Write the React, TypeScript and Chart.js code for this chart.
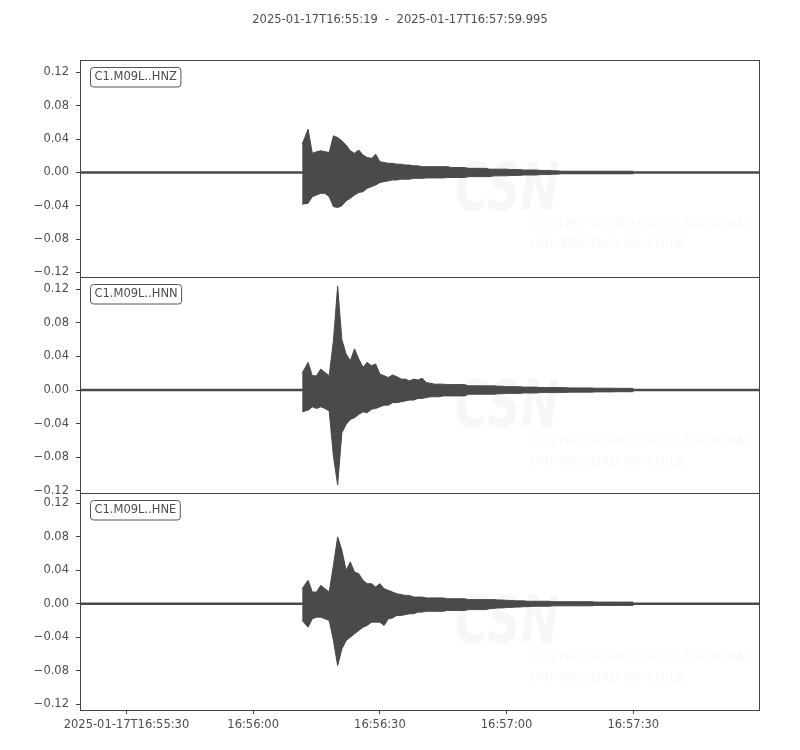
import { useEffect, useRef } from "react";
import { Chart, registerables } from "chart.js";

Chart.register(...registerables);

const title = "2025-01-17T16:55:19  -  2025-01-17T16:57:59.995";
const channels = ["C1.M09L..HNZ", "C1.M09L..HNN", "C1.M09L..HNE"];

// time in seconds relative to 16:56:00
const timeStart = -41;
const timeEnd = 119.995;
const xTicks = [-30, 0, 30, 60, 90];
const xTickLabels = ["2025-01-17T16:55:30", "16:56:00", "16:56:30", "16:57:00", "16:57:30"];
const yTicks = [-0.12, -0.08, -0.04, 0, 0.04, 0.08, 0.12];
const yMin = [-0.125, -0.123, -0.127];
const yMax = [0.135, 0.135, 0.132];

// onset, then 1 s steps; envelope (max / min) of each trace
const binSeconds = [
  11.6, 13, 14, 15, 16, 17, 18, 19, 20, 21,
  22, 23, 24, 25, 26, 27, 28, 29, 30, 31,
  32, 33, 34, 35, 36, 37, 38, 39, 40, 41,
  42, 43, 44, 45, 46, 47, 48, 49, 50, 51,
  52, 53, 54, 55, 56, 57, 58, 59, 60, 61,
  62, 63, 64, 65, 66, 67, 68, 69, 70, 71,
  72, 73, 74, 75, 76, 77, 78, 79, 80, 81,
  82, 83, 84, 85, 86, 87, 88, 89, 90,
];

const hnzMax = [
  0.034, 0.052, 0.023, 0.025, 0.026, 0.025, 0.024, 0.044, 0.042, 0.038,
  0.033, 0.026, 0.023, 0.027, 0.021, 0.018, 0.017, 0.022, 0.013, 0.012,
  0.011, 0.011, 0.01, 0.01, 0.009, 0.009, 0.008, 0.008, 0.007, 0.007,
  0.007, 0.007, 0.007, 0.007, 0.007, 0.006, 0.006, 0.006, 0.006, 0.005,
  0.005, 0.005, 0.005, 0.005, 0.004, 0.004, 0.004, 0.004, 0.004, 0.0035,
  0.0035, 0.0035, 0.003, 0.003, 0.003, 0.003, 0.0025, 0.0025, 0.0025, 0.002,
  0.002, 0.0015, 0.0015, 0.0015, 0.0015, 0.0015, 0.0015, 0.0015, 0.0015, 0.0015,
  0.0015, 0.0015, 0.0015, 0.0015, 0.0015, 0.0015, 0.0015, 0.0015, 0.0015,
];
const hnzMin = [
  -0.038, -0.037, -0.029, -0.027, -0.025, -0.025, -0.029, -0.041, -0.042, -0.04,
  -0.034, -0.031, -0.027, -0.024, -0.023, -0.019, -0.017, -0.015, -0.012, -0.011,
  -0.01, -0.009, -0.009, -0.008, -0.008, -0.008, -0.007, -0.007, -0.007, -0.0065,
  -0.0065, -0.0065, -0.0065, -0.0065, -0.006, -0.006, -0.006, -0.006, -0.006, -0.005,
  -0.005, -0.005, -0.005, -0.005, -0.005, -0.004, -0.004, -0.004, -0.004, -0.0035,
  -0.0035, -0.0035, -0.003, -0.003, -0.003, -0.003, -0.0025, -0.0025, -0.0025, -0.002,
  -0.002, -0.0015, -0.0015, -0.0015, -0.0015, -0.0015, -0.0015, -0.0015, -0.0015, -0.0015,
  -0.0015, -0.0015, -0.0015, -0.0015, -0.0015, -0.0015, -0.0015, -0.0015, -0.0015,
];

const hnnMax = [
  0.02, 0.033, 0.017, 0.017, 0.025, 0.021, 0.017, 0.059, 0.124, 0.06,
  0.043, 0.035, 0.049, 0.037, 0.027, 0.033, 0.029, 0.031, 0.019, 0.017,
  0.015, 0.018, 0.016, 0.013, 0.013, 0.011, 0.013, 0.012, 0.014, 0.009,
  0.008, 0.007, 0.007, 0.007, 0.0065, 0.0065, 0.0065, 0.0065, 0.0065, 0.005,
  0.005, 0.005, 0.005, 0.005, 0.005, 0.005, 0.0045, 0.0045, 0.004, 0.004,
  0.004, 0.004, 0.0035, 0.0035, 0.0035, 0.0035, 0.003, 0.003, 0.003, 0.003,
  0.003, 0.003, 0.0028, 0.0025, 0.0025, 0.0025, 0.0025, 0.0025, 0.0025, 0.0022,
  0.0022, 0.0022, 0.0022, 0.0022, 0.002, 0.002, 0.002, 0.002, 0.002,
];
const hnnMin = [
  -0.026, -0.024, -0.02, -0.022, -0.02, -0.022, -0.025, -0.079, -0.113, -0.051,
  -0.041, -0.035, -0.033, -0.029, -0.026, -0.027, -0.023, -0.022, -0.02, -0.018,
  -0.018, -0.015, -0.015, -0.014, -0.013, -0.012, -0.012, -0.01, -0.01, -0.009,
  -0.008, -0.008, -0.008, -0.007, -0.007, -0.007, -0.007, -0.007, -0.007, -0.005,
  -0.005, -0.005, -0.005, -0.005, -0.005, -0.005, -0.0045, -0.0045, -0.004, -0.004,
  -0.004, -0.004, -0.0035, -0.0035, -0.0035, -0.0035, -0.003, -0.003, -0.003, -0.003,
  -0.003, -0.003, -0.0028, -0.0025, -0.0025, -0.0025, -0.0025, -0.0025, -0.0025, -0.0022,
  -0.0022, -0.0022, -0.0022, -0.0022, -0.002, -0.002, -0.002, -0.002, -0.002,
];

const hneMax = [
  0.018, 0.028, 0.014, 0.014, 0.022, 0.018, 0.014, 0.046, 0.08, 0.064,
  0.04, 0.05, 0.038, 0.036, 0.028, 0.024, 0.024, 0.02, 0.024, 0.018,
  0.016, 0.014, 0.012, 0.011, 0.01, 0.01, 0.008, 0.008, 0.008, 0.007,
  0.007, 0.007, 0.007, 0.007, 0.006, 0.006, 0.006, 0.006, 0.006, 0.005,
  0.005, 0.005, 0.005, 0.005, 0.005, 0.005, 0.0045, 0.0045, 0.004, 0.004,
  0.0035, 0.0035, 0.0035, 0.003, 0.003, 0.003, 0.003, 0.003, 0.003, 0.0025,
  0.0025, 0.0025, 0.0025, 0.0025, 0.0025, 0.0025, 0.0025, 0.0025, 0.0025, 0.002,
  0.002, 0.002, 0.002, 0.002, 0.002, 0.002, 0.002, 0.002, 0.002,
];
const hneMin = [
  -0.02, -0.028, -0.018, -0.016, -0.016, -0.018, -0.02, -0.044, -0.074, -0.054,
  -0.044, -0.04, -0.036, -0.032, -0.028, -0.026, -0.022, -0.022, -0.022, -0.026,
  -0.018, -0.017, -0.014, -0.014, -0.013, -0.012, -0.012, -0.01, -0.01, -0.009,
  -0.009, -0.009, -0.009, -0.009, -0.008, -0.008, -0.008, -0.008, -0.008, -0.007,
  -0.007, -0.007, -0.007, -0.007, -0.006, -0.0055, -0.005, -0.005, -0.0045, -0.0045,
  -0.004, -0.004, -0.0035, -0.0035, -0.003, -0.003, -0.003, -0.003, -0.003, -0.0025,
  -0.0025, -0.0025, -0.0025, -0.0025, -0.0025, -0.0025, -0.0025, -0.0025, -0.0025, -0.002,
  -0.002, -0.002, -0.002, -0.002, -0.002, -0.002, -0.002, -0.002, -0.002,
];

const traceMax = [hnzMax, hnnMax, hneMax];
const traceMin = [hnzMin, hnnMin, hneMin];

const ink = "#4a4a4a";
const frame = "#444444";
const textColor = "#4d4d4d";
const fontFamily = "'DejaVu Sans', sans-serif";
const fontSize = 11.5;

function formatY(v: number) {
  if (Math.abs(v) < 1e-9) return "0.00";
  return v < 0 ? "\u2212" + Math.abs(v).toFixed(2) : v.toFixed(2);
}

// title, panel frames, station labels and the faint watermark
const decorations = {
  id: "seismoDecorations",
  beforeDatasetsDraw(chart: any) {
    const { ctx } = chart;
    ctx.save();
    ctx.fillStyle = "rgba(0,0,0,0.03)";
    channels.forEach((_, i) => {
      const s = chart.scales["y" + i];
      ctx.save();
      ctx.translate(455, s.top + 150);
      ctx.scale(0.7, 1);
      ctx.font = `italic bold 66px ${fontFamily}`;
      ctx.textBaseline = "alphabetic";
      ctx.fillText("CSN", 0, 0);
      ctx.restore();
      ctx.font = `13px ${fontFamily}`;
      ctx.fillText("CENTRO SISMOLOGICO NACIONAL", 530, s.top + 168);
      ctx.fillText("UNIVERSIDAD DE CHILE", 530, s.top + 188);
    });
    ctx.restore();
  },
  afterDatasetsDraw(chart: any) {
    const { ctx, chartArea } = chart;
    ctx.save();
    ctx.strokeStyle = frame;
    ctx.lineWidth = 1;
    channels.forEach((name, i) => {
      const s = chart.scales["y" + i];
      const top = Math.round(s.top) + 0.5;
      const bottom = Math.round(s.bottom) + 0.5;
      ctx.strokeStyle = frame;
      ctx.strokeRect(chartArea.left + 0.5, top, chartArea.right - chartArea.left - 1, bottom - top);

      ctx.font = `${fontSize}px ${fontFamily}`;
      const w = ctx.measureText(name).width + 8;
      const bx = chartArea.left + 10.5;
      const by = top + 7;
      ctx.beginPath();
      ctx.roundRect(bx, by, w, 19.5, 3);
      ctx.fillStyle = "#ffffff";
      ctx.fill();
      ctx.strokeStyle = "#555555";
      ctx.stroke();
      ctx.fillStyle = textColor;
      ctx.textBaseline = "middle";
      ctx.textAlign = "left";
      ctx.fillText(name, bx + 4, by + 10);
    });
    ctx.font = `${fontSize}px ${fontFamily}`;
    ctx.fillStyle = textColor;
    ctx.textAlign = "center";
    ctx.textBaseline = "middle";
    ctx.fillText(title, 400, 20);
    ctx.restore();
  },
};

export default function App() {
  const canvasRef = useRef<HTMLCanvasElement>(null);
  const chartRef = useRef<Chart | null>(null);

  useEffect(() => {
    if (!canvasRef.current) return;
    if (chartRef.current) chartRef.current.destroy();

    Chart.defaults.font.family = fontFamily;
    Chart.defaults.font.size = fontSize;
    Chart.defaults.color = textColor;

    const datasets: any[] = [];
    channels.forEach((name, i) => {
      // upper envelope, filled down to the lower envelope (next dataset)
      datasets.push({
        label: name + " max",
        yAxisID: "y" + i,
        data: binSeconds.map((t, k) => ({ x: t, y: traceMax[i][k] })),
        borderColor: ink,
        backgroundColor: ink,
        borderWidth: 1,
        pointRadius: 0,
        tension: 0,
        fill: "+1",
      });
      datasets.push({
        label: name + " min",
        yAxisID: "y" + i,
        data: binSeconds.map((t, k) => ({ x: t, y: traceMin[i][k] })),
        borderColor: ink,
        backgroundColor: ink,
        borderWidth: 1,
        pointRadius: 0,
        tension: 0,
        fill: false,
      });
      datasets.push({
        label: name + " noise",
        yAxisID: "y" + i,
        data: [
          { x: timeStart, y: 0 },
          { x: timeEnd, y: 0 },
        ],
        borderColor: ink,
        borderWidth: 2.5,
        pointRadius: 0,
        fill: false,
      });
    });

    const scales: any = {
      x: {
        type: "linear",
        position: "bottom",
        min: timeStart,
        max: timeEnd,
        offset: false,
        grid: { drawOnChartArea: false, offset: false, tickLength: 4, tickColor: frame },
        border: { display: false },
        ticks: {
          padding: 4,
          maxRotation: 0,
          autoSkip: false,
          color: textColor,
          callback: (_v: any, index: number) => xTickLabels[index],
        },
        afterBuildTicks: (s: any) => {
          s.ticks = xTicks.map((v) => ({ value: v }));
        },
        afterFit: (s: any) => {
          s.height = 40;
        },
      },
    };
    channels.forEach((_, i) => {
      scales["y" + i] = {
        type: "linear",
        position: "left",
        stack: "traces",
        stackWeight: 1,
        weight: channels.length - i,
        min: yMin[i],
        max: yMax[i],
        grid: { drawOnChartArea: false, tickLength: 4, tickColor: frame },
        border: { display: false },
        ticks: {
          padding: 7,
          color: textColor,
          callback: (v: any) => formatY(Number(v)),
        },
        afterBuildTicks: (s: any) => {
          s.ticks = yTicks.map((v) => ({ value: v }));
        },
        afterFit: (s: any) => {
          s.width = 80;
        },
      };
    });

    chartRef.current = new Chart(canvasRef.current, {
      type: "line",
      data: { datasets },
      options: {
        responsive: false,
        animation: false,
        events: [],
        layout: { padding: { top: 60, right: 40, bottom: 0, left: 0 } },
        scales,
        plugins: {
          legend: { display: false },
          title: { display: false },
          tooltip: { enabled: false },
        },
      },
      plugins: [decorations],
    } as any);

    return () => {
      if (chartRef.current) {
        chartRef.current.destroy();
        chartRef.current = null;
      }
    };
  }, []);

  return (
    <div style={{ position: "absolute", left: 0, top: 0, width: 800, height: 750, background: "#ffffff" }}>
      <canvas ref={canvasRef} width={800} height={750} />
    </div>
  );
}
